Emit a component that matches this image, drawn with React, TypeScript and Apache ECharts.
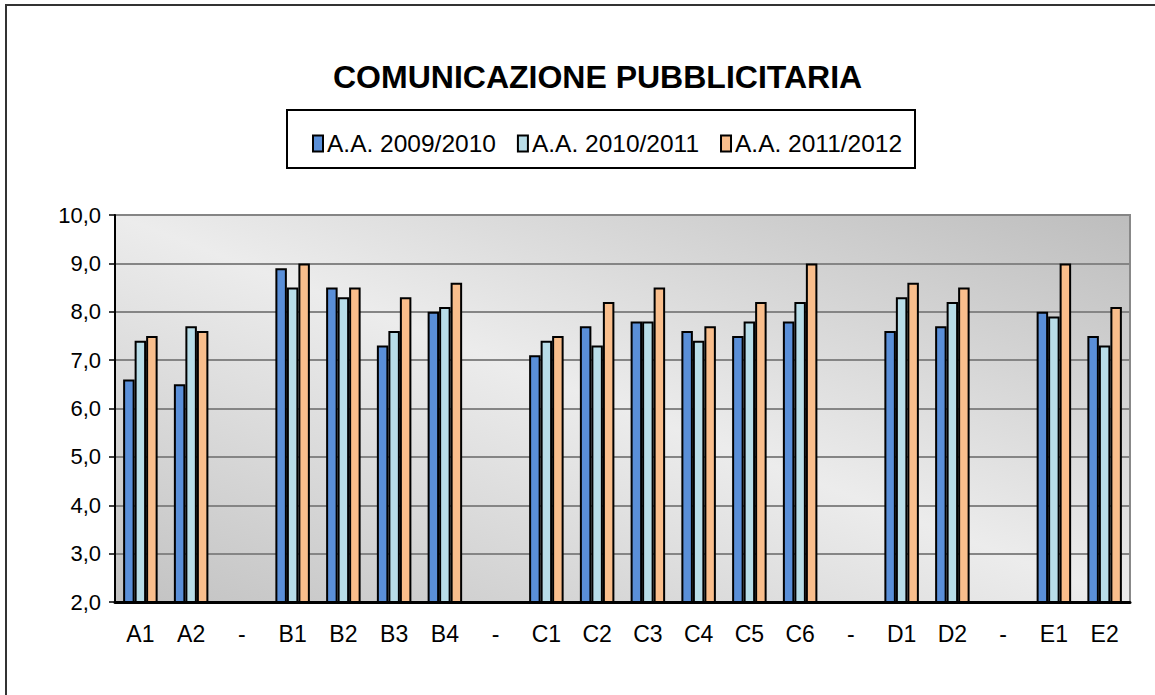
import React, { useEffect, useRef } from "react";
import * as echarts from "echarts";

const categories = ["A1", "A2", "-", "B1", "B2", "B3", "B4", "-", "C1", "C2", "C3", "C4", "C5", "C6", "-", "D1", "D2", "-", "E1", "E2"];
const seriesNames = ["A.A. 2009/2010", "A.A. 2010/2011", "A.A. 2011/2012"];
const values2009 = [6.6, 6.5, null, 8.9, 8.5, 7.3, 8.0, null, 7.1, 7.7, 7.8, 7.6, 7.5, 7.8, null, 7.6, 7.7, null, 8.0, 7.5];
const values2010 = [7.4, 7.7, null, 8.5, 8.3, 7.6, 8.1, null, 7.4, 7.3, 7.8, 7.4, 7.8, 8.2, null, 8.3, 8.2, null, 7.9, 7.3];
const values2011 = [7.5, 7.6, null, 9.0, 8.5, 8.3, 8.6, null, 7.5, 8.2, 8.5, 7.7, 8.2, 9.0, null, 8.6, 8.5, null, 9.0, 8.1];
const colors = ["#5a8fd8", "#b8dde8", "#f9be8c"];
const yTicks = { min: 2, max: 10, interval: 1 };

export default function App() {
  const ref = useRef<HTMLDivElement>(null);
  useEffect(() => {
    if (!ref.current) return;
    const chart = echarts.init(ref.current, null, { renderer: "svg" });
    const allData = [values2009, values2010, values2011];
    chart.setOption({
      animation: false,
      backgroundColor: "#ffffff",
      textStyle: { fontFamily: "Liberation Sans, Arial, sans-serif", color: "#000" },
      title: {
        text: "COMUNICAZIONE PUBBLICITARIA",
        left: 328,
        top: 56,
        textStyle: { fontSize: 32, fontWeight: "bold", color: "#000", fontFamily: "Liberation Sans, Arial, sans-serif" },
      },
      legend: {
        left: 307,
        top: 126,
        itemWidth: 10,
        itemHeight: 16,
        itemGap: 21,
        icon: "rect",
        itemStyle: { borderColor: "#000", borderWidth: 2 },
        textStyle: { fontSize: 24.5, color: "#000", padding: [0, 0, 0, -1] },
        data: seriesNames,
      },
      graphic: [
        { type: "rect", shape: { x: 6, y: 5, width: 1200, height: 800 }, style: { fill: "none", stroke: "#333", lineWidth: 2 }, silent: true },
        { type: "rect", shape: { x: 287, y: 110, width: 628, height: 58 }, style: { fill: "none", stroke: "#000", lineWidth: 2 }, silent: true },
      ],
      grid: {
        left: 115,
        right: 25,
        top: 215,
        bottom: 93,
        show: true,
        borderColor: "#888",
        borderWidth: 2,
        backgroundColor: {
          type: "linear",
          x: 0, y: 1, x2: 1, y2: 0,
          colorStops: [
            { offset: 0, color: "#c2c2c2" },
            { offset: 0.5, color: "#ececec" },
            { offset: 1, color: "#bdbdbd" },
          ],
        },
      },
      xAxis: {
        type: "category",
        data: categories,
        axisLine: { lineStyle: { color: "#000", width: 3 } },
        axisTick: { length: 8, lineStyle: { color: "#000", width: 1.5 } },
        axisLabel: { fontSize: 23, color: "#000", margin: 20, interval: 0 },
      },
      yAxis: {
        type: "value",
        min: yTicks.min,
        max: yTicks.max,
        interval: yTicks.interval,
        axisLine: { show: true, lineStyle: { color: "#000", width: 2 } },
        axisTick: { show: true, length: 6, lineStyle: { color: "#000", width: 1.5 } },
        axisLabel: { fontSize: 22, color: "#000", margin: 14, formatter: (v: number) => v.toFixed(1).replace(".", ",") },
        splitLine: { lineStyle: { color: "#858585", width: 2 } },
      },
      series: seriesNames.map((name, i) => ({
        name,
        type: "bar",
        data: allData[i],
        barWidth: 11.5,
        barGap: "0%",
        itemStyle: { color: colors[i], borderColor: "#000", borderWidth: 2 },
      })),
    });
    return () => chart.dispose();
  }, []);
  return <div ref={ref} style={{ position: "fixed", left: 0, top: 0, width: 1155, height: 695 }} />;
}
